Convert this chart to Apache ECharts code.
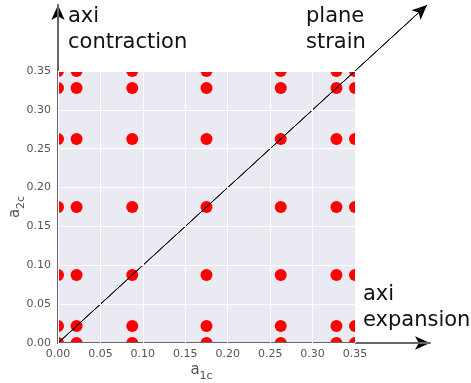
<!DOCTYPE html>
<html><head><meta charset="utf-8">
<script src="https://cdn.jsdelivr.net/npm/echarts@6/dist/echarts.min.js"></script>
<style>html,body{margin:0;padding:0;background:#fff}#c{width:471px;height:383px}</style>
</head><body><div id="c"></div>
<script>
// Data
var a1cLevels = [0, 0.021875, 0.0875, 0.175, 0.2625, 0.328125, 0.35];
var a2cLevels = [0, 0.021875, 0.0875, 0.175, 0.2625, 0.328125, 0.35];
var axisMax = 0.35;
var tickStep = 0.05;
var arrowExtentX = 0.4385;
var arrowExtentY = 0.435;
var planeStrainLine = [[0, 0], [0.435, 0.435]];
var annotations = [
  {text: 'axi\ncontraction'},
  {text: 'plane\nstrain'},
  {text: 'axi\nexpansion'}
];

var points = [];
a1cLevels.forEach(function (x) { a2cLevels.forEach(function (y) { points.push([x, y]); }); });

var chart = echarts.init(document.getElementById('c'));
var font = 'DejaVu Sans';
var annPos = [[68, 4], [306, 4], [363, 282]];
var nameRich = {a: {fontFamily: font, fontSize: 15, color: '#555', verticalAlign: 'bottom'},
                s: {fontFamily: font, fontSize: 11, color: '#555', verticalAlign: 'bottom', padding: [0, 0, -4, 0]}};
chart.setOption({
  animation: false,
  grid: [
    {left: 58, top: 71, width: 297, height: 272, show: true, backgroundColor: '#EAEAF2', borderWidth: 0, containLabel: false, outerBoundsMode: 'none'},
    {left: 58, top: 5, width: 372, height: 338, containLabel: false, outerBoundsMode: 'none'}
  ],
  xAxis: [
    {gridIndex: 0, type: 'value', min: 0, max: axisMax, interval: tickStep, z: 30,
     axisLine: {show: false}, axisTick: {show: false},
     axisLabel: {color: '#555', fontFamily: font, fontSize: 11, margin: 6, formatter: function (v) { return v.toFixed(2); }},
     splitLine: {lineStyle: {color: '#fff', width: 1}},
     name: '{a|a}{s|1c}', nameLocation: 'middle', nameGap: 20, nameMoveOverlap: false,
     nameTextStyle: {padding: [0, 10, 0, 0], rich: nameRich}},
    {gridIndex: 1, type: 'value', min: 0, max: arrowExtentX, z: 20,
     axisLine: {show: true, lineStyle: {color: '#666', width: 2}}, axisTick: {show: false}, axisLabel: {show: false}, splitLine: {show: false}}
  ],
  yAxis: [
    {gridIndex: 0, type: 'value', min: 0, max: axisMax, interval: tickStep, z: 30,
     axisLine: {show: false}, axisTick: {show: false},
     axisLabel: {color: '#555', fontFamily: font, fontSize: 11, margin: 7, formatter: function (v) { return v.toFixed(2); }},
     splitLine: {lineStyle: {color: '#fff', width: 1}},
     name: '{a|a}{s|2c}', nameLocation: 'middle', nameGap: 35, nameRotate: 90, nameMoveOverlap: false,
     nameTextStyle: {rich: nameRich}},
    {gridIndex: 1, type: 'value', min: 0, max: arrowExtentY, z: 20,
     axisLine: {show: true, lineStyle: {color: '#666', width: 2}}, axisTick: {show: false}, axisLabel: {show: false}, splitLine: {show: false}}
  ],
  series: [
    {type: 'custom', xAxisIndex: 0, yAxisIndex: 0, data: points, clip: true, silent: true, z: 2,
     renderItem: function (params, api) {
       var p = api.coord([api.value(0), api.value(1)]);
       return {type: 'circle', shape: {cx: p[0], cy: p[1], r: 6}, style: {fill: '#FF0000'}};
     }},
    {type: 'line', xAxisIndex: 1, yAxisIndex: 1, data: planeStrainLine, showSymbol: false, silent: true,
     lineStyle: {color: '#000', width: 1}, z: 25,
     markLine: {silent: true, symbol: ['none', 'arrow'], symbolSize: [10, 15], label: {show: false},
       lineStyle: {color: '#000', width: 1, type: 'solid'},
       emphasis: {disabled: true},
       data: [
         [{coord: planeStrainLine[0]}, {coord: planeStrainLine[1]}],
         [{coord: [arrowExtentX - 0.01, 0]}, {coord: [arrowExtentX, 0]}],
         [{coord: [0, arrowExtentY - 0.01]}, {coord: [0, arrowExtentY]}]
       ]}}
  ],
  graphic: annotations.map(function (a, i) {
    return {type: 'text', left: annPos[i][0], top: annPos[i][1], z: 10,
      style: {text: a.text, font: '21px "DejaVu Sans"', fill: '#111', lineHeight: 26}};
  })
});
</script></body></html>
